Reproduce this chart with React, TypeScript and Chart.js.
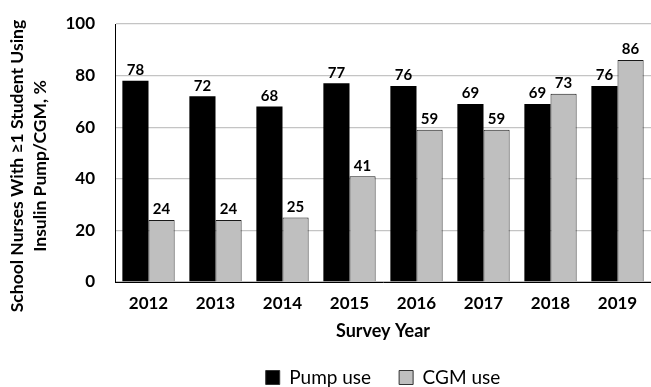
import React, { useEffect, useRef } from "react";
import { Chart, registerables } from "chart.js";

Chart.register(...registerables);

const years = ["2012", "2013", "2014", "2015", "2016", "2017", "2018", "2019"];
const pumpUse = [78, 72, 68, 77, 76, 69, 69, 76];
const cgmUse = [24, 24, 25, 41, 59, 59, 73, 86];
const yTitleLines = ["School Nurses With \u22651 Student Using", "Insulin Pump/CGM, %"];
const xTitle = "Survey Year";
const seriesNames = ["Pump use", "CGM use"];

const FONT = "Lato, 'Open Sans', sans-serif";

const valueLabels = {
  id: "valueLabels",
  afterDatasetsDraw(chart: any) {
    const ctx = chart.ctx;
    ctx.save();
    ctx.font = `bold 15px ${FONT}`;
    ctx.fillStyle = "#000";
    ctx.textAlign = "center";
    ctx.textBaseline = "bottom";
    chart.data.datasets.forEach((ds: any, di: number) => {
      const meta = chart.getDatasetMeta(di);
      meta.data.forEach((el: any, i: number) => {
        ctx.fillText(String(ds.data[i]), el.x, el.y - 3);
      });
    });
    ctx.restore();
  },
};

const yTitlePlugin = {
  id: "yTitlePlugin",
  afterDraw(chart: any) {
    const ctx = chart.ctx;
    ctx.save();
    ctx.font = `bold 17.5px ${FONT}`;
    ctx.fillStyle = "#000";
    ctx.textAlign = "center";
    ctx.textBaseline = "middle";
    const xs = [17, 40];
    yTitleLines.forEach((t, i) => {
      ctx.save();
      ctx.translate(xs[i], 166);
      ctx.rotate(-Math.PI / 2);
      ctx.fillText(t, 0, 0);
      ctx.restore();
    });
    ctx.restore();
  },
};

export default function App() {
  const ref = useRef<HTMLCanvasElement>(null);
  useEffect(() => {
    document.body.style.margin = "0";
    const chart = new Chart(ref.current!, {
      type: "bar",
      data: {
        labels: years,
        datasets: [
          {
            label: seriesNames[0],
            data: pumpUse,
            backgroundColor: "#000000",
            borderColor: "#000000",
            borderWidth: 0,
          },
          {
            label: seriesNames[1],
            data: cgmUse,
            backgroundColor: "#bfbfbf",
            borderColor: "#1a1a1a",
            borderWidth: 1,
          },
        ],
      },
      options: {
        animation: false,
        responsive: false,
        layout: { padding: { left: 0, right: -2, top: 24, bottom: -10 } },
        datasets: {
          bar: { categoryPercentage: 0.78, barPercentage: 1 },
        },
        plugins: {
          legend: {
            position: "bottom",
            fullSize: false,
            labels: {
              font: { family: FONT, size: 19 },
              color: "#000",
              boxWidth: 14,
              boxHeight: 14,
              padding: 28,
              generateLabels: (chart: any) =>
                chart.data.datasets.map((ds: any, i: number) => ({
                  text: ds.label,
                  fillStyle: ds.backgroundColor,
                  strokeStyle: "#333",
                  lineWidth: 1,
                  datasetIndex: i,
                })),
            },
          },
          tooltip: { enabled: false },
        },
        scales: {
          x: {
            grid: { display: false },
            border: { display: true, color: "#000", width: 1 },
            ticks: { font: { family: FONT, size: 17, weight: "bold" }, color: "#000", padding: 3 },
            title: {
              display: true,
              text: xTitle,
              font: { family: FONT, size: 18, weight: "bold" },
              color: "#000",
              padding: { top: 0, bottom: -2 },
            },
            afterFit: (s: any) => {
              s.height = 58;
            },
          },
          y: {
            min: 0,
            max: 100,
            ticks: { stepSize: 20, font: { family: FONT, size: 17, weight: "bold" }, color: "#000", padding: 20 },
            grid: { color: "#c4c4c4", lineWidth: 1.3, drawTicks: false, tickLength: 0 },
            border: { display: true, color: "#000", width: 1 },
            afterFit: (s: any) => {
              s.width = 115;
              s.paddingTop = 0;
              s.paddingBottom = 0;
            },
          },
        },
      },
      plugins: [valueLabels, yTitlePlugin],
    });
    return () => chart.destroy();
  }, []);
  return (
    <div style={{ width: 651, height: 387 }}>
      <canvas ref={ref} width={651} height={387} style={{ display: "block" }} />
    </div>
  );
}
